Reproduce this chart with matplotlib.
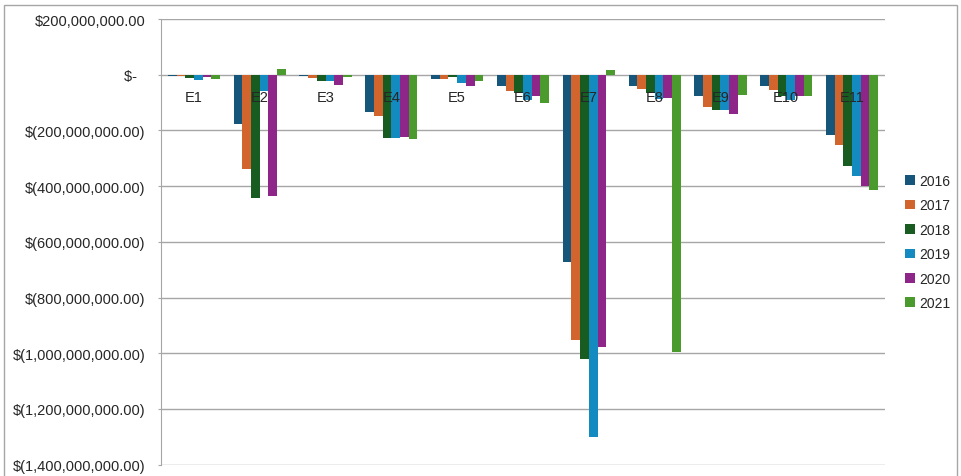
import numpy as np
import matplotlib
matplotlib.use('Agg')
from matplotlib import pyplot as plt
from matplotlib.patches import Rectangle
from matplotlib.ticker import FuncFormatter

plt.rcParams['font.family'] = ['Liberation Sans', 'DejaVu Sans']

categories = ['E1', 'E2', 'E3', 'E4', 'E5', 'E6', 'E7', 'E8', 'E9', 'E10', 'E11']
years = ['2016', '2017', '2018', '2019', '2020', '2021']

# values in millions of dollars
v2016 = [-3, -176, -5, -135, -15, -42, -671, -39, -78, -40, -215]
v2017 = [-5, -338, -12, -149, -15, -60, -953, -52, -117, -54, -251]
v2018 = [-12, -444, -22, -227, -10, -66, -1020, -66, -126, -78, -328]
v2019 = [-20, -58, -22, -227, -30, -92, -1299, -88, -126, -92, -365]
v2020 = [-10, -434, -36, -224, -39, -78, -977, -84, -141, -78, -401]
v2021 = [-17, 20, -10, -231, -24, -102, 17, -996, -72, -78, -414]

series = [v2016, v2017, v2018, v2019, v2020, v2021]
colors = ['#15567a', '#d2652d', '#185c22', '#138bc0', '#8e268a', '#4b9a2d']

fig = plt.figure(figsize=(9.61, 4.77), dpi=100)
ax = fig.add_axes([161/961, 1-465.7/477, (885-161)/961, (465.7-20)/477])

x = np.arange(len(categories))
w = 0.132
for i, (vals, c) in enumerate(zip(series, colors)):
    ax.bar(x + (i - 2.5)*w, np.array(vals)*1e6, width=w, color=c, label=years[i], zorder=3)

ax.set_xlim(-0.5, len(categories) - 0.5)
ax.set_ylim(-1400e6, 200e6)
ax.set_yticks(np.arange(-1400e6, 200e6 + 1, 200e6))

def money(v, pos):
    if abs(v) < 1:
        return '$-  '
    if v < 0:
        return '$({:,.2f})'.format(-v)
    return '${:,.2f}'.format(v)

ax.yaxis.set_major_formatter(FuncFormatter(money))
ax.grid(axis='y', color='#a6a6a6', linewidth=1, zorder=0)
ax.tick_params(axis='y', length=2, color='#a6a6a6', labelsize=10.5, labelcolor='#262626', pad=9)

ax.spines['bottom'].set_position(('data', 0))
ax.spines['bottom'].set_visible(False)
ax.spines['top'].set_visible(False)
ax.spines['right'].set_visible(False)
ax.spines['left'].set_color('#a6a6a6')
ax.set_xticks(x)
ax.set_xticklabels(categories)
ax.tick_params(axis='x', length=0, pad=11, labelsize=10.5, labelcolor='#262626')
ax.xaxis.set_zorder(5)

ax.legend(loc='upper left', bbox_to_anchor=(905/961, 1-175/477), bbox_transform=fig.transFigure,
          frameon=False, handlelength=0.7, handleheight=0.7, handletextpad=0.3,
          labelspacing=0.75, fontsize=10, borderaxespad=0, borderpad=0, labelcolor='#262626')

fig.patches.append(Rectangle((4/961, -0.02), (957-4)/961, 1.02-6/477, transform=fig.transFigure,
                             fill=False, edgecolor='#a6a6a6', linewidth=1))

fig.savefig('out.png', dpi=100)
